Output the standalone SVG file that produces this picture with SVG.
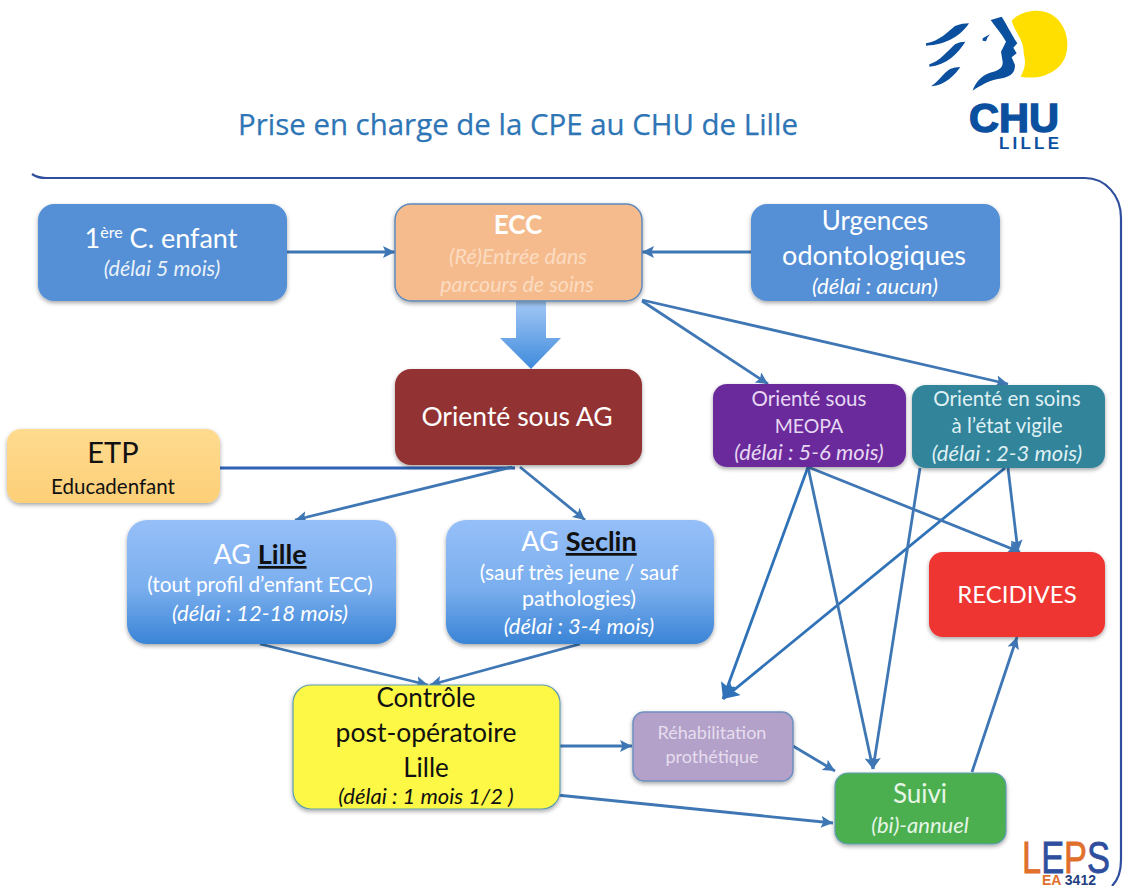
<svg xmlns="http://www.w3.org/2000/svg" width="1123" height="886" viewBox="0 0 1123 886">
<style>
text{font-family:"Lato","Noto Sans",sans-serif;text-anchor:middle;fill:#fff}
.i{font-style:italic}
.n{filter:url(#sh)}
.c line{stroke:#3f77b5;stroke-width:2.8;fill:none}
.a{marker-end:url(#ah)}
.b{marker-end:url(#ab)}
</style>
<defs>
<filter id="sh" x="-10%" y="-10%" width="120%" height="125%"><feDropShadow dx="0" dy="2" stdDeviation="2" flood-color="#000" flood-opacity=".35"/></filter>
<marker id="ah" markerUnits="userSpaceOnUse" markerWidth="14" markerHeight="14" refX="12" refY="6" orient="auto"><path d="M0 0L12 6L0 12L2.5 6Z" fill="#3f77b5"/></marker>
<marker id="ab" markerUnits="userSpaceOnUse" markerWidth="18" markerHeight="18" refX="16" refY="8" orient="auto"><path d="M0 0L16 8L0 16L3 8Z" fill="#2f72b8"/></marker>
<linearGradient id="ag" x1="0" y1="0" x2="0" y2="1"><stop offset="0" stop-color="#96bff8"/><stop offset=".55" stop-color="#7aaeee"/><stop offset="1" stop-color="#3a84d6"/></linearGradient>
<linearGradient id="ar" x1="0" y1="0" x2="0" y2="1"><stop offset="0" stop-color="#a4c8f6"/><stop offset="1" stop-color="#3f8bdc"/></linearGradient>
<linearGradient id="et" x1="0" y1="0" x2="0" y2="1"><stop offset="0" stop-color="#fedb8f"/><stop offset="1" stop-color="#fdcf78"/></linearGradient>
</defs>
<rect width="1123" height="886" fill="#fff"/>
<text x="518" y="135" font-size="29.5" textLength="560" lengthAdjust="spacingAndGlyphs" style="font-family:'Open Sans','Noto Sans',sans-serif;fill:#2e75b6;stroke:#2e75b6;stroke-width:.25">Prise en charge de la CPE au CHU de Lille</text>
<g id="logo-chu">
<g transform="translate(900,0) scale(.33333)">
<path fill="#fedf00" d="M335 62C370 25 440 20 475 60C515 105 510 180 465 210C430 235 395 235 362 230C375 205 378 190 372 165C370 150 372 140 360 115C350 95 340 80 335 62Z"/>
<path fill="#0b4f9f" d="M272 60L305 50C318 70 330 95 352 130L340 143L350 160L335 172L345 195C345 225 325 232 290 238C265 243 240 258 218 272C225 248 245 226 270 218C292 212 310 205 308 185L303 155L318 125C305 100 285 80 272 60Z"/>
<path fill="#0b4f9f" d="M248 115L270 103L262 113L258 124L248 122Z"/>
<path fill="#0b4f9f" d="M78 130C115 125 145 95 165 78C180 72 195 70 207 70C185 105 140 135 78 137Z"/>
<path fill="#0b4f9f" d="M88 193C120 185 145 150 165 133C175 127 185 125 196 125C175 160 140 195 88 200Z"/>
<path fill="#0b4f9f" d="M95 257C115 245 130 220 150 207C160 203 170 201 181 201C165 225 135 255 95 259Z"/>
</g>
<text x="1014" y="132" font-size="41" font-weight="700" textLength="90" lengthAdjust="spacingAndGlyphs" style="font-family:'Liberation Sans',sans-serif;fill:#0b4f9f;stroke:#0b4f9f;stroke-width:1.4">CHU</text>
<text x="1029" y="149" font-size="17" font-weight="700" textLength="60" style="font-family:'Liberation Sans',sans-serif;fill:#0b4f9f">LILLE</text>
</g>
<path id="frame" d="M32 174C36 177 40 178 46 178H1085C1105 178 1121 195 1121 218V860C1121 872 1118 880 1112 886" fill="none" stroke="#2f4f9e" stroke-width="2.2"/>
<g id="connectors" class="c">
<line class="a" x1="287" y1="252" x2="395" y2="252"/>
<line class="a" x1="751" y1="252" x2="642" y2="252"/>
<line class="a" x1="642" y1="301" x2="768" y2="384"/>
<line class="a" x1="642" y1="300" x2="1008" y2="384"/>
<line x1="220" y1="468" x2="515" y2="468" style="stroke:#2f63b5;stroke-width:3"/>
<line class="a" x1="512" y1="467" x2="295" y2="520"/>
<line class="a" x1="520" y1="467" x2="585" y2="520"/>
<line class="a" x1="260" y1="644" x2="428" y2="685"/>
<line class="a" x1="580" y1="644" x2="430" y2="685"/>
<line class="a" x1="560" y1="746" x2="632" y2="746"/>
<line class="a" x1="557" y1="795" x2="833" y2="823"/>
<line class="a" x1="793" y1="746" x2="835" y2="771"/>
<line class="b" x1="808" y1="467" x2="723" y2="699" style="stroke:#2f72b8"/>
<line class="b" x1="1005" y1="468" x2="723" y2="699" style="stroke:#2f72b8"/>
<line class="a" x1="808" y1="467" x2="873" y2="769"/>
<line class="a" x1="920" y1="468" x2="873" y2="769"/>
<line class="a" x1="808" y1="467" x2="1020" y2="552"/>
<line class="a" x1="1008" y1="468" x2="1018" y2="552"/>
<line class="a" x1="972" y1="772" x2="1017" y2="637"/>
</g>
<g id="arrow-block"><path d="M516 301H546V338H561L531 369L500 338H516Z" fill="url(#ar)"/></g>
<g id="n1"><rect class="n" x="38" y="204" width="249" height="97" rx="16" fill="#5490d6"/>
<text x="161" y="248" font-size="27">1<tspan font-size="16" dy="-10">ère</tspan><tspan dy="10"> C. enfant</tspan></text>
<text class="i" x="162" y="276" font-size="21.5" fill-opacity=".9">(délai 5 mois)</text></g>
<g id="n2"><rect class="n" x="395" y="204" width="247" height="97" rx="16" fill="#f6bb8c" stroke="#5d8bbd" stroke-width="1.5"/>
<text x="518" y="234" font-size="26" font-weight="700">ECC</text>
<text class="i" x="518" y="264" font-size="21.5" style="fill:#fbdcc2">(Ré)Entrée dans</text>
<text class="i" x="517" y="292" font-size="21.5" style="fill:#fbdcc2">parcours de soins</text></g>
<g id="n3"><rect class="n" x="751" y="204" width="249" height="97" rx="16" fill="#5490d6"/>
<text x="875" y="230" font-size="26">Urgences</text>
<text x="874" y="265" font-size="27">odontologiques</text>
<text class="i" x="875" y="294" font-size="22">(délai : aucun)</text></g>
<g id="n4"><rect class="n" x="395" y="369" width="247" height="96" rx="16" fill="#933232"/>
<text x="517" y="426" font-size="26.5">Orienté sous AG</text></g>
<g id="n5"><rect class="n" x="7" y="429" width="213" height="74" rx="14" fill="url(#et)"/>
<text x="113" y="463" font-size="29" style="fill:#111">ETP</text>
<text x="113" y="494" font-size="20.5" style="fill:#111">Educadenfant</text></g>
<g id="n6"><rect class="n" x="713" y="384" width="193" height="83" rx="14" fill="#6b2c9c"/>
<text x="809" y="406" font-size="20.5" style="fill:#e6d8f3">Orienté sous</text>
<text x="809" y="433" font-size="19.5" style="fill:#e6d8f3">MEOPA</text>
<text class="i" x="809" y="460" font-size="22" style="fill:#e6d8f3">(délai : 5-6 mois)</text></g>
<g id="n7"><rect class="n" x="912" y="385" width="193" height="83" rx="14" fill="#31849b"/>
<text x="1007" y="406" font-size="20.5" style="fill:#dff0f3">Orienté en soins</text>
<text x="1007" y="433" font-size="20.5" style="fill:#dff0f3">à l’état vigile</text>
<text class="i" x="1007" y="461" font-size="22" style="fill:#dff0f3">(délai : 2-3 mois)</text></g>
<g id="n8"><rect class="n" x="929" y="552" width="176" height="85" rx="14" fill="#ee3530"/>
<text x="1017" y="603" font-size="24">RECIDIVES</text></g>
<g id="n9"><rect class="n" x="127" y="520" width="269" height="124" rx="20" fill="url(#ag)"/>
<text x="260" y="564" font-size="27">AG <tspan font-weight="700" text-decoration="underline" style="fill:#111">Lille</tspan></text>
<text x="260" y="592" font-size="20.8">(tout profil d’enfant ECC)</text>
<text class="i" x="260" y="621" font-size="22">(délai : 12-18 mois)</text></g>
<g id="n10"><rect class="n" x="446" y="520" width="268" height="124" rx="20" fill="url(#ag)"/>
<text x="579" y="551" font-size="27">AG <tspan font-weight="700" text-decoration="underline" style="fill:#111">Seclin</tspan></text>
<text x="579" y="580" font-size="21">(sauf très jeune / sauf</text>
<text x="579" y="606" font-size="21.5">pathologies)</text>
<text class="i" x="579" y="634" font-size="22">(délai : 3-4 mois)</text></g>
<g id="n11"><rect class="n" x="293" y="685" width="267" height="124" rx="18" fill="#fdf845" stroke="#5d9bb0" stroke-width="1.2"/>
<text x="426" y="707" font-size="26" style="fill:#111">Contrôle</text>
<text x="426" y="742" font-size="26.5" style="fill:#111">post-opératoire</text>
<text x="426" y="777" font-size="26" style="fill:#111">Lille</text>
<text class="i" x="426" y="804" font-size="22" style="fill:#111">(délai : 1 mois 1/2 )</text></g>
<g id="n12"><rect class="n" x="633" y="712" width="160" height="69" rx="11" fill="#b3a1c9" stroke="#6f8fc0" stroke-width="1.5"/>
<text x="712" y="739" font-size="18" style="fill:#e6deef">Réhabilitation</text>
<text x="712" y="763" font-size="18" style="fill:#e6deef">prothétique</text></g>
<g id="n13"><rect class="n" x="835" y="773" width="171" height="71" rx="13" fill="#4caf50" stroke="#5d9bb0" stroke-width="1.2"/>
<text x="920" y="803" font-size="26" style="fill:#e6f6e6">Suivi</text>
<text class="i" x="920" y="833" font-size="22" style="fill:#e6f6e6">(bi)-annuel</text></g>
<g id="logo-leps">
<text x="1066" y="873" font-size="44" textLength="88" lengthAdjust="spacingAndGlyphs" style="font-family:'Liberation Sans',sans-serif;stroke-width:.8"><tspan style="fill:#e0702c;stroke:#e0702c">L</tspan><tspan style="fill:#2f4f9e;stroke:#2f4f9e">E</tspan><tspan style="fill:#e0702c;stroke:#e0702c">P</tspan><tspan style="fill:#2f4f9e;stroke:#2f4f9e">S</tspan></text>
<text x="1069" y="885" font-size="14" font-weight="700" textLength="54" style="font-family:'Liberation Sans',sans-serif"><tspan style="fill:#e0702c">EA </tspan><tspan style="fill:#1f3f80">3412</tspan></text>
</g>
</svg>
